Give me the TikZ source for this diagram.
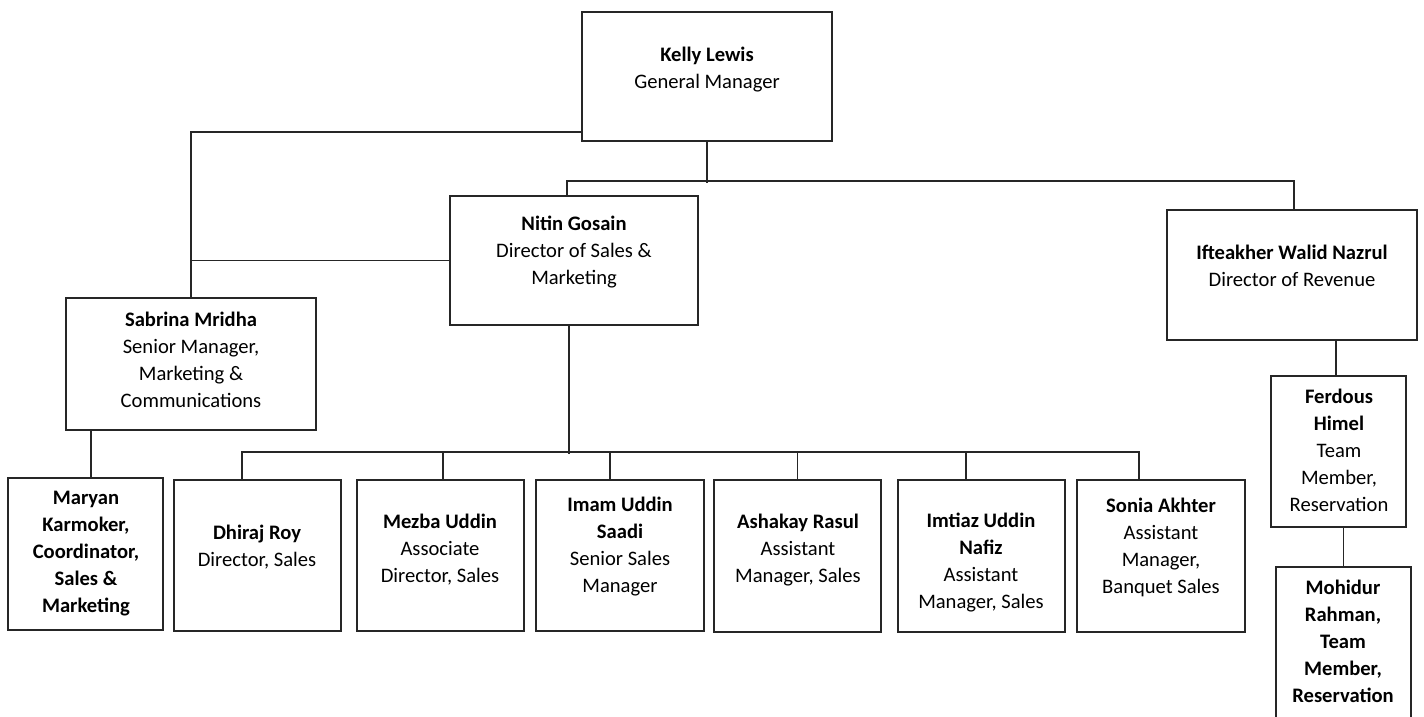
\documentclass[tikz,border=0pt]{standalone}
\usepackage{fontspec}
\setmainfont{Carlito}
\begin{document}
\begin{tikzpicture}[x=1pt,y=-1pt,
  box/.style={draw=black!85,line width=1.7pt,rectangle,inner sep=0pt},
  txt/.style={align=center,inner sep=0pt,font=\fontsize{20.6}{27}\selectfont},
  conn/.style={draw=black!85,line width=1.7pt}]
\useasboundingbox (0,0) rectangle (1424,716);
% boxes
\node[box,minimum width=250pt,minimum height=129pt] (kelly) at (707,76.5) {};
\node[box,minimum width=248pt,minimum height=129pt] (nitin) at (574,260.5) {};
\node[box,minimum width=250pt,minimum height=130pt] (ift) at (1292,275) {};
\node[box,minimum width=250pt,minimum height=132pt] (sabrina) at (191,364) {};
\node[box,minimum width=155pt,minimum height=152pt] (maryan) at (85.5,554) {};
\node[box,minimum width=167pt,minimum height=151pt] (dhiraj) at (257.5,555.5) {};
\node[box,minimum width=167pt,minimum height=151pt] (mezba) at (440.5,555.5) {};
\node[box,minimum width=168pt,minimum height=151pt] (imam) at (620,555.5) {};
\node[box,minimum width=167pt,minimum height=152pt] (ashakay) at (797.5,556) {};
\node[box,minimum width=167pt,minimum height=152pt] (imtiaz) at (981.5,556) {};
\node[box,minimum width=168pt,minimum height=152pt] (sonia) at (1161,556) {};
\node[box,minimum width=135pt,minimum height=151pt] (ferdous) at (1338.5,451.5) {};
\node[box,minimum width=135pt,minimum height=163pt] (mohidur) at (1343.5,648.5) {};
% texts
\node[txt] (kellyT) at (707,70) {\textbf{Kelly Lewis}\\General Manager};
\node[txt] (nitinT) at (574,252) {\textbf{Nitin Gosain}\\Director of Sales \&\\Marketing};
\node[txt] (iftT) at (1292,266) {\textbf{Ifteakher Walid Nazrul}\\Director of Revenue};
\node[txt] (sabrinaT) at (191,360) {\textbf{Sabrina Mridha}\\Senior Manager,\\Marketing \&\\Communications};
\node[txt] (maryanT) at (86,554) {\textbf{Maryan}\\\textbf{Karmoker,}\\\textbf{Coordinator,}\\\textbf{Sales \&}\\\textbf{Marketing}};
\node[txt] (dhirajT) at (257,547) {\textbf{Dhiraj Roy}\\Director, Sales};
\node[txt] (mezbaT) at (440,550) {\textbf{Mezba Uddin}\\Associate\\Director, Sales};
\node[txt] (imamT) at (620,547) {\textbf{Imam Uddin}\\\textbf{Saadi}\\Senior Sales\\Manager};
\node[txt] (ashakayT) at (798,550) {\textbf{Ashakay Rasul}\\Assistant\\Manager, Sales};
\node[txt] (imtiazT) at (981,563) {\textbf{Imtiaz Uddin}\\\textbf{Nafiz}\\Assistant\\Manager, Sales};
\node[txt] (soniaT) at (1161,547) {\textbf{Sonia Akhter}\\Assistant\\Manager,\\Banquet Sales};
\node[txt] (ferdousT) at (1339,450) {\textbf{Ferdous}\\\textbf{Himel}\\Team\\Member,\\Reservation};
\node[txt] (mohidurT) at (1343,641) {\textbf{Mohidur}\\\textbf{Rahman,}\\\textbf{Team}\\\textbf{Member,}\\\textbf{Reservation}};
% connectors
\draw[conn] ([yshift=10pt]kelly.south west) -| (sabrina.north);
\draw[conn] (nitin.west) -- (nitin.west -| sabrina.north);
\draw[conn] (kelly.south) -- ++(0,41);
\draw[conn] ([xshift=-7pt]nitin.north) -- ++(0,-14) -| ([xshift=2pt]ift.north);
\draw[conn] ([xshift=-5pt]nitin.south) -- ++(0,128);
\draw[conn] ([xshift=-15.5pt]dhiraj.north) -- ++(0,-27) -| ([xshift=-22pt]sonia.north);
\draw[conn] ([xshift=2.5pt]mezba.north) -- ++(0,-27);
\draw[conn] ([xshift=-10pt]imam.north) -- ++(0,-27);
\draw[conn] (ashakay.north) -- ++(0,-27);
\draw[conn] ([xshift=-15.5pt]imtiaz.north) -- ++(0,-27);
\draw[conn] ([xshift=5.5pt]maryan.north) -- ([xshift=5.5pt]maryan.north |- sabrina.south);
\draw[conn] ([xshift=-2.5pt]ferdous.north) -- ([xshift=-2.5pt]ferdous.north |- ift.south);
\draw[conn] (mohidur.north) -- (mohidur.north |- ferdous.south);
\end{tikzpicture}
\end{document}
